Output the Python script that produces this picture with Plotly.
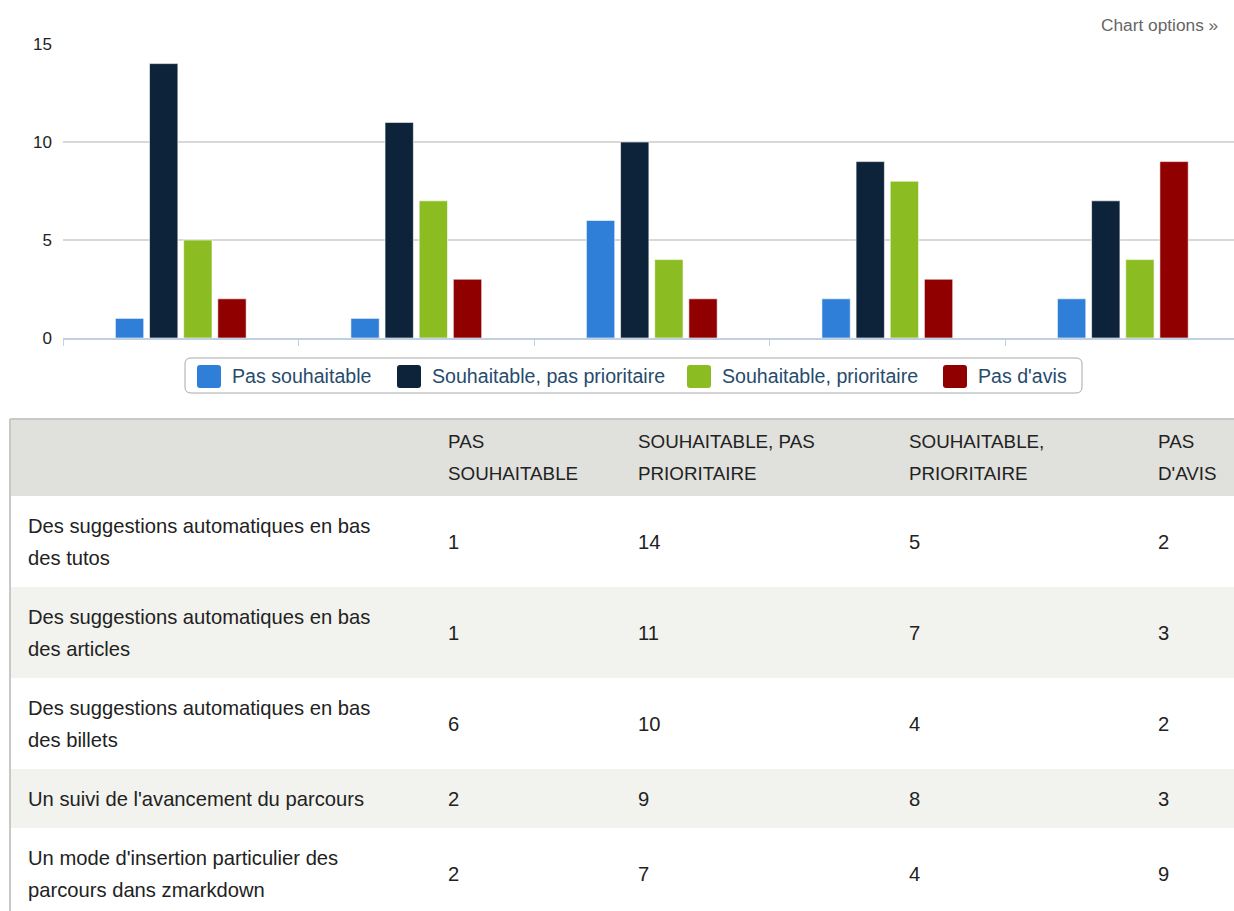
import plotly.graph_objects as go

# ---------------- data ----------------
categories = [
    "Des suggestions automatiques en bas<br>des tutos",
    "Des suggestions automatiques en bas<br>des articles",
    "Des suggestions automatiques en bas<br>des billets",
    "Un suivi de l'avancement du parcours",
    "Un mode d'insertion particulier des<br>parcours dans zmarkdown",
]
series_names = ["Pas souhaitable", "Souhaitable, pas prioritaire",
                "Souhaitable, prioritaire", "Pas d'avis"]
header_labels = ["PAS<br>SOUHAITABLE", "SOUHAITABLE, PAS<br>PRIORITAIRE",
                 "SOUHAITABLE,<br>PRIORITAIRE", "PAS<br>D'AVIS"]
pas_souhaitable = [1, 1, 6, 2, 2]
souhaitable_pas_prioritaire = [14, 11, 10, 9, 7]
souhaitable_prioritaire = [5, 7, 4, 8, 4]
pas_d_avis = [2, 3, 2, 3, 9]
y_ticks = [0, 5, 10, 15]

series_values = [pas_souhaitable, souhaitable_pas_prioritaire,
                 souhaitable_prioritaire, pas_d_avis]
colors = ["#2f7ed8", "#0d233a", "#8bbc21", "#910000"]

# ---------------- layout constants ----------------
W, H = 1234, 911
FONT = "Liberation Sans, Arial, sans-serif"


def px(x):
    return x / W


def py(y):
    return 1 - y / H


def rrect(x0, y0, x1, y1, r):
    X0, X1 = px(x0), px(x1)
    Y0, Y1 = py(y0), py(y1)
    rx, ry = r / W, r / H
    return (f"M{X0+rx},{Y0} L{X1-rx},{Y0} Q{X1},{Y0} {X1},{Y0-ry} "
            f"L{X1},{Y1+ry} Q{X1},{Y1} {X1-rx},{Y1} L{X0+rx},{Y1} "
            f"Q{X0},{Y1} {X0},{Y1+ry} L{X0},{Y0-ry} Q{X0},{Y0} {X0+rx},{Y0} Z")


fig = go.Figure()
for name, vals, col in zip(series_names, series_values, colors):
    fig.add_trace(go.Bar(
        x=categories, y=vals, name=name,
        marker=dict(color=col, line=dict(color="rgba(255,255,255,0.6)", width=1)),
        showlegend=False,
    ))

shapes = []
annotations = []


def label(text, x, y, size, color, xanchor="left"):
    annotations.append(dict(text=text, x=px(x), y=py(y), xref="paper", yref="paper",
                            xanchor=xanchor, yanchor="middle", showarrow=False,
                            borderpad=0, borderwidth=0,
                            font=dict(family=FONT, size=size, color=color)))


# ---- custom legend ----
shapes.append(dict(type="path", xref="paper", yref="paper",
                   path=rrect(185, 358, 1082, 393, 6),
                   line=dict(color="#a8a8a8", width=1), fillcolor="white"))
legend_text_x = [232, 432, 722, 978]
for name, col, tx in zip(series_names, colors, legend_text_x):
    shapes.append(dict(type="path", xref="paper", yref="paper",
                       path=rrect(tx - 35, 365, tx - 11, 388, 3),
                       line=dict(width=0), fillcolor=col))
    label(name, tx, 376, 19.6, "#274b6d")

# ---- chart options ----
label("Chart options \u00bb", 1218, 25, 17.3, "#666666", xanchor="right")

# ---- table ----
TL, TR = 10, W
header_top, header_bot = 419, 496
row_heights = [91, 91, 91, 59, 91]
col_x = [28, 448, 638, 909, 1158]
line_gap = 32
text_color = "#222222"

shapes.append(dict(type="rect", xref="paper", yref="paper",
                   x0=px(TL), x1=px(TR), y0=py(header_top), y1=py(header_bot),
                   fillcolor="#e0e0dc", line=dict(width=0)))


def add_text(txt, x, yc, size, color):
    lines = txt.split("<br>")
    n = len(lines)
    for i, ln in enumerate(lines):
        label(ln, x, yc + (i - (n - 1) / 2) * line_gap, size, color)


hc = (header_top + header_bot) / 2
for lab, x in zip(header_labels, col_x[1:]):
    add_text(lab, x, hc, 18.8, text_color)

y0 = header_bot
for r, (cat, h) in enumerate(zip(categories, row_heights)):
    fill = "white" if r % 2 == 0 else "#f2f2ee"
    shapes.append(dict(type="rect", xref="paper", yref="paper",
                       x0=px(TL), x1=px(TR), y0=py(y0), y1=py(y0 + h),
                       fillcolor=fill, line=dict(width=0)))
    yc = y0 + h / 2
    add_text(cat, col_x[0], yc, 20.2, text_color)
    for s, vals in enumerate(series_values):
        add_text(str(vals[r]), col_x[s + 1], yc, 20.2, text_color)
    y0 += h

shapes.append(dict(type="line", xref="paper", yref="paper",
                   x0=px(TL), x1=px(TR), y0=py(header_top), y1=py(header_top),
                   line=dict(color="#c8c8c8", width=2)))
shapes.append(dict(type="line", xref="paper", yref="paper",
                   x0=px(TL), x1=px(TL), y0=py(header_top), y1=0,
                   line=dict(color="#c8c8c8", width=2)))

fig.update_layout(
    template="none",
    width=W, height=H,
    margin=dict(l=0, r=0, t=0, b=0, pad=0, autoexpand=False),
    paper_bgcolor="white", plot_bgcolor="white",
    barmode="group", bargap=0.42, bargroupgap=0.17,
    shapes=shapes, annotations=annotations,
    xaxis=dict(domain=[px(63), 1], range=[-0.5, 4.472], showticklabels=False,
               showgrid=False, zeroline=False, showline=True, linecolor="#c0d0e0",
               linewidth=2, ticks="outside", tickson="boundaries", ticklen=6,
               tickcolor="#c0d0e0", tickwidth=1, automargin=False),
    yaxis=dict(domain=[py(338), py(44)], range=[0, 15], tickvals=y_ticks,
               showgrid=True, gridcolor="#d8d8d8", gridwidth=1.5, zeroline=False,
               showline=False, ticks="", ticklabelstandoff=10, automargin=False,
               tickfont=dict(family=FONT, size=17, color="#222222")),
    font=dict(family=FONT),
)

fig.write_html("out.html", config={"displayModeBar": False},
               post_script="document.body.style.margin='0';document.body.style.overflow='hidden';")
